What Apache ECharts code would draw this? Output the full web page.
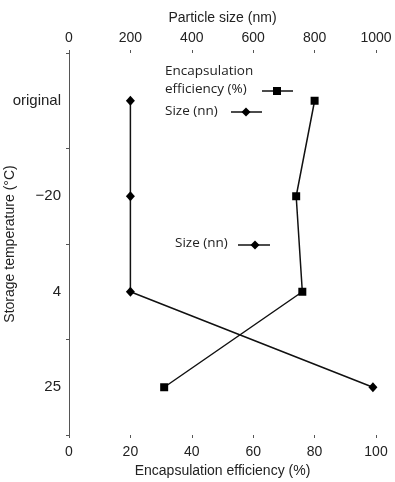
<!DOCTYPE html>
<html><head><meta charset="utf-8">
<script src="https://cdn.jsdelivr.net/npm/echarts@6/dist/echarts.min.js"></script>
<style>html,body{margin:0;padding:0;background:#fff}#c{width:395px;height:482px}</style>
</head><body><div id="c"></div>
<script>
const categories = ['original', '\u221220', '4', '25'];
const efficiency = [80, 74, 76, 31];
const particleSize = [200, 200, 200, 990];
const effTicks = [0, 20, 40, 60, 80, 100];
const sizeTicks = [0, 200, 400, 600, 800, 1000];

const chart = echarts.init(document.getElementById('c'));
const axisCol = '#555';
const txt = '#222';
const ff = 'Liberation Sans, Arial, sans-serif';
const lf = 'Open Sans, Lato, sans-serif';
chart.setOption({
  animation: false,
  grid: { left: 69, right: 19, top: 53, bottom: 47, containLabel: false, outerBoundsMode: 'none' },
  xAxis: [
    { type: 'value', position: 'bottom', min: effTicks[0], max: effTicks[effTicks.length-1], interval: 20,
      name: 'Encapsulation efficiency (%)', nameLocation: 'middle', nameGap: 29,
      nameTextStyle: { fontFamily: ff, fontSize: 14, color: txt },
      axisLine: { lineStyle: { color: axisCol } }, axisTick: { show: true, length: 3, lineStyle: { color: axisCol } },
      axisLabel: { fontFamily: ff, fontSize: 14, color: txt, margin: 10, formatter: v => String(v) }, splitLine: { show: false } },
    { type: 'value', position: 'top', min: sizeTicks[0], max: sizeTicks[sizeTicks.length-1], interval: 200,
      name: 'Particle size (nm)', nameLocation: 'middle', nameGap: 28,
      nameTextStyle: { fontFamily: ff, fontSize: 14, color: txt },
      axisLine: { lineStyle: { color: axisCol } }, axisTick: { show: true, length: 3, lineStyle: { color: axisCol } },
      axisLabel: { fontFamily: ff, fontSize: 14, color: txt, margin: 8, formatter: v => String(v) }, splitLine: { show: false } }
  ],
  yAxis: {
    type: 'category', data: categories, inverse: true, boundaryGap: true,
    name: 'Storage temperature (\u00B0C)', nameLocation: 'middle', nameGap: 52, nameRotate: 90,
    nameMoveOverlap: false,
    nameTextStyle: { fontFamily: ff, fontSize: 14, color: txt },
    axisLine: { lineStyle: { color: axisCol } },
    axisTick: { show: true, length: 3, inside: false, lineStyle: { color: axisCol } },
    axisLabel: { fontFamily: ff, fontSize: 15, color: txt, margin: 8 }
  },
  series: [
    { name: 'Encapsulation efficiency (%)', type: 'line', xAxisIndex: 0, data: efficiency,
      symbol: 'rect', symbolSize: 8, lineStyle: { color: '#111', width: 1.5 }, itemStyle: { color: '#000' } },
    { name: 'Size (nn)', type: 'line', xAxisIndex: 1, data: particleSize,
      symbol: 'diamond', symbolSize: [9, 10], lineStyle: { color: '#111', width: 1.5 }, itemStyle: { color: '#000' } }
  ],
  graphic: [
    { type: 'text', left: 165, top: 64, style: { text: 'Encapsulation', font: '13.5px ' + lf, fill: '#222' } },
    { type: 'text', left: 165, top: 82, style: { text: 'efficiency (%)', font: '13.5px ' + lf, fill: '#222' } },
    { type: 'line', shape: { x1: 262, y1: 91, x2: 293, y2: 91 }, style: { stroke: '#111', lineWidth: 1.5 } },
    { type: 'rect', shape: { x: 273, y: 87, width: 8, height: 8 }, style: { fill: '#000' } },
    { type: 'text', left: 165, top: 104, style: { text: 'Size (nn)', font: '13.5px ' + lf, fill: '#222' } },
    { type: 'line', shape: { x1: 231, y1: 112, x2: 262, y2: 112 }, style: { stroke: '#111', lineWidth: 1.5 } },
    { type: 'polygon', shape: { points: [[246, 107.5], [250.5, 112], [246, 116.5], [241.5, 112]] }, style: { fill: '#000' } },
    { type: 'text', left: 175, top: 236, style: { text: 'Size (nn)', font: '13.5px ' + lf, fill: '#222' } },
    { type: 'line', shape: { x1: 238, y1: 245, x2: 270, y2: 245 }, style: { stroke: '#111', lineWidth: 1.5 } },
    { type: 'polygon', shape: { points: [[255, 240.5], [259.5, 245], [255, 249.5], [250.5, 245]] }, style: { fill: '#000' } }
  ]
});
</script></body></html>
